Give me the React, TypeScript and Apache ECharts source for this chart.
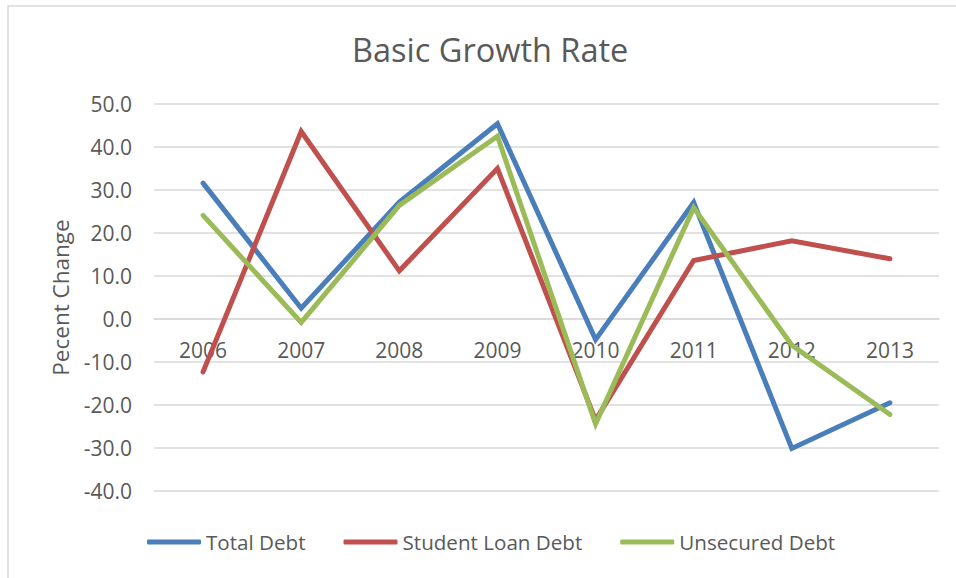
import React, { useEffect, useRef } from "react";
import * as echarts from "echarts";

const years = ["2006", "2007", "2008", "2009", "2010", "2011", "2012", "2013"];
const totalDebt = [31.6, 2.5, 27.2, 45.4, -4.8, 27.1, -30.1, -19.5];
const studentLoanDebt = [-12.3, 43.6, 11.2, 35.0, -23.5, 13.6, 18.2, 14.0];
const unsecuredDebt = [24.1, -0.8, 26.4, 42.5, -24.4, 25.9, -6.1, -22.2];

const FONT = "Open Sans";
const TEXT = "#595959";

export default function App() {
  const ref = useRef<HTMLDivElement>(null);
  useEffect(() => {
    if (!ref.current) return;
    const chart = echarts.init(ref.current, undefined, { renderer: "svg" });
    chart.setOption({
      animation: false,
      backgroundColor: "#ffffff",
      textStyle: { fontFamily: FONT },
      title: {
        text: "Basic Growth Rate",
        left: 347,
        top: 28,
        textStyle: { fontFamily: FONT, fontSize: 32.5, fontWeight: "normal", color: TEXT },
      },
      graphic: [
        {
          type: "rect",
          shape: { x: 8, y: 6, width: 1200, height: 1200 },
          style: { fill: "none", stroke: "#d9d9d9", lineWidth: 1.5 },
          silent: true,
        },
      ],
      legend: {
        left: 147,
        top: 529,
        padding: 0,
        icon: "roundRect",
        itemWidth: 54,
        itemHeight: 5,
        itemGap: 38,
        textStyle: { fontFamily: FONT, fontSize: 20.6, color: TEXT, lineHeight: 26 },
        data: ["Total Debt", "Student Loan Debt", "Unsecured Debt"],
      },
      grid: { left: 154, right: 17, top: 104, bottom: 87, containLabel: false },
      xAxis: {
        type: "category",
        data: years,
        boundaryGap: true,
        offset: -172,
        axisLine: { show: true, onZero: false, lineStyle: { color: "#d9d9d9", width: 1.5 } },
        axisTick: { show: false },
        axisLabel: { color: TEXT, fontFamily: FONT, fontSize: 21, margin: 20, lineHeight: 22 },
      },
      yAxis: {
        type: "value",
        min: -40,
        max: 50,
        interval: 10,
        name: "Pecent Change",
        nameLocation: "middle",
        nameGap: 82,
        nameTextStyle: { color: TEXT, fontFamily: FONT, fontSize: 22.5 },
        axisLine: { show: false },
        axisTick: { show: false },
        axisLabel: {
          color: TEXT,
          fontFamily: FONT,
          fontSize: 21,
          margin: 22,
          formatter: (v: number) => v.toFixed(1),
        },
        splitLine: { lineStyle: { color: "#d9d9d9", width: 1.5 } },
      },
      series: [
        {
          name: "Total Debt",
          type: "line",
          data: totalDebt,
          symbol: "none",
          lineStyle: { color: "#4a7ebb", width: 5, cap: "round", join: "miter" },
          itemStyle: { color: "#4a7ebb" },
        },
        {
          name: "Student Loan Debt",
          type: "line",
          data: studentLoanDebt,
          symbol: "none",
          lineStyle: { color: "#c0504d", width: 5, cap: "round", join: "miter" },
          itemStyle: { color: "#c0504d" },
        },
        {
          name: "Unsecured Debt",
          type: "line",
          data: unsecuredDebt,
          symbol: "none",
          lineStyle: { color: "#9bbb59", width: 5, cap: "round", join: "miter" },
          itemStyle: { color: "#9bbb59" },
        },
      ],
    });
    return () => chart.dispose();
  }, []);
  return (
    <div
      ref={ref}
      style={{ position: "absolute", left: 0, top: 0, width: 956, height: 578 }}
    />
  );
}
